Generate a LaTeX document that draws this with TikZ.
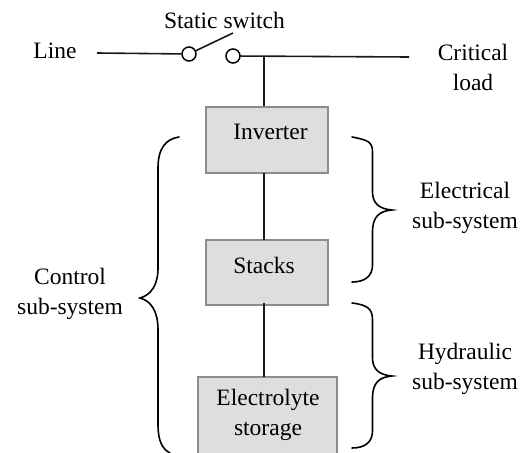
\documentclass[tikz,border=0pt]{standalone}
\usepackage{fontspec}
\setmainfont{Liberation Serif}
\tikzset{
  wire/.style={line width=1.6pt,black!90},
  term/.style={circle,draw=black,line width=1.5pt,fill=white,minimum size=14pt,inner sep=0pt},
  block/.style={draw=black!45,line width=1.5pt,fill=black!13,inner sep=0pt,align=center},
  lab/.style={inner sep=0pt,align=center,font=\fontsize{23.5}{30}\selectfont},
  brace/.style={line width=1.6pt,black,line cap=round}
}
\begin{document}
\begin{tikzpicture}[x=1pt,y=-1pt]
\useasboundingbox (0,0) rectangle (524,452);
\clip (0,0) rectangle (524,452);
\node[block,minimum width=122pt,minimum height=66pt] (inv) at (267,140) {};
\node[lab] at (270.5,132) {Inverter};
\node[block,minimum width=122pt,minimum height=65pt] (stk) at (267,272.5) {};
\node[lab] at (264,265) {Stacks};
\node[block,minimum width=139pt,minimum height=90pt] (ele) at (267.5,422) {};
\node[lab] at (268,415) {Electrolyte\\storage};
\coordinate (lineend) at (97,53);
\coordinate (loadend) at (409,57);
\coordinate (tap) at (264,56.5);
\coordinate (bladeend) at (233,33);
\node[term] (sl) at (189,54) {};
\node[term] (sr) at (233,56) {};
\draw[wire] (lineend) -- (sl);
\draw[wire] (sr) -- (loadend);
\draw[wire] (sl) -- (bladeend);
\draw[wire] (tap) -- (tap |- inv.north);
\draw[wire] (264,173) -- (264,240);
\draw[wire] (264,303) -- (264,377);
\node[lab] at (224.5,20) {Static switch};
\node[lab] at (55,51) {Line};
\node[lab] at (473,67) {Critical\\load};
\node[lab] at (70,294) {Control\\sub-system};
\node[lab] at (465,208) {Electrical\\sub-system};
\node[lab] at (465,369) {Hydraulic\\sub-system};
% control brace
\draw[brace] (179,137) .. controls (166,139) and (158,148) .. (158,168)
 -- (158,268) .. controls (158,285) and (151,295) .. (140,298)
 .. controls (151,301) and (158,311) .. (158,330)
 -- (158,425) .. controls (158,440) and (162,449) .. (170,453);
% electrical brace
\draw[brace] (352,137) .. controls (368,140) and (372.5,142) .. (372.5,152)
 -- (372.5,192) .. controls (372.5,203) and (379,209) .. (392,210)
 .. controls (379,211) and (372.5,217) .. (372.5,232)
 -- (372.5,265) .. controls (372.5,276) and (365,282) .. (352,282);
% hydraulic brace
\draw[brace] (352,303) .. controls (368,305) and (372.5,309) .. (372.5,320)
 -- (372.5,358) .. controls (372.5,369) and (379,375) .. (392,376)
 .. controls (379,377) and (372.5,383) .. (372.5,398)
 -- (372.5,431) .. controls (372.5,442) and (365,448) .. (352,448);
\end{tikzpicture}
\end{document}
